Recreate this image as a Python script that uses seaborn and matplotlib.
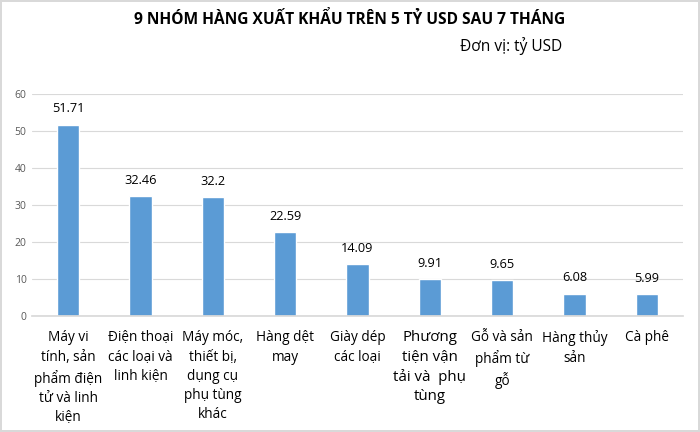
import matplotlib
matplotlib.use("Agg")
import matplotlib.pyplot as plt
import seaborn as sns
import pandas as pd

# ============ DATA ============
categories = [
    "Máy vi\ntính, sản\nphẩm điện\ntử và linh\nkiện",
    "Điện thoại\ncác loại và\nlinh kiện",
    "Máy móc,\nthiết bị,\ndụng cụ\nphụ tùng\nkhác",
    "Hàng dệt\nmay",
    "Giày dép\ncác loại",
    "Phương\ntiện vận\ntải và  phụ\ntùng",
    "Gỗ và sản\nphẩm từ\ngỗ",
    "Hàng thủy\nsản",
    "Cà phê",
]
values = [51.71, 32.46, 32.2, 22.59, 14.09, 9.91, 9.65, 6.08, 5.99]
value_labels = ["51.71", "32.46", "32.2", "22.59", "14.09", "9.91", "9.65", "6.08", "5.99"]
y_ticks = [0, 10, 20, 30, 40, 50, 60]

TITLE = "9 NHÓM HÀNG XUẤT KHẨU TRÊN 5 TỶ USD SAU 7 THÁNG"
UNIT = "Đơn vị: tỷ USD"
BAR_COLOR = "#5B9BD5"

sns.set_theme(style="white")
plt.rcParams["font.family"] = ["Open Sans", "Noto Sans", "DejaVu Sans"]

df = pd.DataFrame({"cat": categories, "val": values})

fig = plt.figure(figsize=(7, 4.32), dpi=100)
ax = fig.add_axes([32 / 700, 1 - 316 / 432, 651 / 700, 222 / 432])

sns.barplot(data=df, x="cat", y="val", color=BAR_COLOR, width=0.31,
            saturation=1, ax=ax)

ax.set_ylim(0, 60)
ax.set_yticks(y_ticks)
ax.set_yticklabels([str(t) for t in y_ticks], fontsize=7.5, color="#595959")
ax.yaxis.grid(True, color="#D9D9D9", linewidth=0.8)
ax.set_axisbelow(True)
ax.set_xlabel("")
ax.set_ylabel("")
ax.tick_params(axis="both", length=0, pad=4)
for side in ["top", "right", "left"]:
    ax.spines[side].set_visible(False)
ax.spines["bottom"].set_color("#D9D9D9")

# category labels
ax.set_xticks(range(len(categories)))
ax.set_xticklabels([])
for i, c in enumerate(categories):
    size = 10.8 if c.startswith("Phương") else 9.8
    ax.text(i, -3.9, c, ha="center", va="top", fontsize=size,
            color="#000000", linespacing=1.38)

# value labels
for i, (v, lab) in enumerate(zip(values, value_labels)):
    ax.text(i, v + 2.5, lab, ha="center", va="bottom", fontsize=9.2,
            color="#000000")

fig.text(0.5, 1 - 20 / 432, TITLE, ha="center", va="center",
         fontsize=11.2, fontweight="bold", color="#000000")
fig.text(562 / 700, 1 - 46 / 432, UNIT, ha="right", va="center",
         fontsize=11.2, color="#000000")

fig.patch.set_edgecolor("#D9D9D9")
fig.patch.set_linewidth(1.5)

fig.savefig("out.png", dpi=100, edgecolor=fig.get_edgecolor())
